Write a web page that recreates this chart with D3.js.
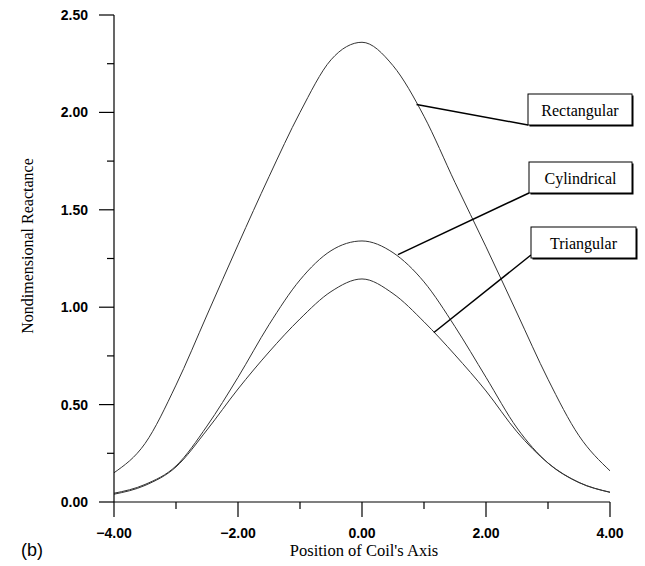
<!DOCTYPE html>
<html>
<head>
<meta charset="utf-8">
<script src="https://cdn.jsdelivr.net/npm/d3@7"></script>
<style>
body { margin: 0; background: #fff; }
</style>
</head>
<body>
<script>
var positions = [-4, -3.5, -3, -2.5, -2, -1.5, -1, -0.5, 0, 0.5, 1, 1.5, 2, 2.5, 3, 3.5, 4];
var rectangular = [0.15, 0.30, 0.60, 0.96, 1.32, 1.67, 2.00, 2.27, 2.36, 2.24, 1.98, 1.64, 1.31, 0.97, 0.63, 0.34, 0.16];
var cylindrical = [0.045, 0.09, 0.185, 0.39, 0.64, 0.91, 1.14, 1.29, 1.34, 1.28, 1.13, 0.90, 0.64, 0.38, 0.20, 0.10, 0.05];
var triangular = [0.04, 0.085, 0.18, 0.37, 0.58, 0.77, 0.94, 1.08, 1.145, 1.07, 0.925, 0.755, 0.57, 0.36, 0.20, 0.10, 0.05];
var seriesNames = ["Rectangular", "Cylindrical", "Triangular"];
var anchorX = [0.88, 0.58, 1.16];
var anchorY = [2.04, 1.27, 0.87];
var xTicks = [-4, -2, 0, 2, 4];
var xMinor = [-3, -1, 1, 3];
var yTicks = [0, 0.5, 1, 1.5, 2, 2.5];
var yMinor = [0.25, 0.75, 1.25, 1.75, 2.25];

var w = 645;
var h = 566;
var svg = d3.select("body")
			.append("svg")
			.attr("width", w)
			.attr("height", h);

var x = d3.scaleLinear().domain([-4, 4]).range([114, 610]);
var y = d3.scaleLinear().domain([0, 2.5]).range([502, 15]);

var series = [rectangular, cylindrical, triangular];
var line = d3.line()
	.x(function(d, i) { return x(positions[i]); })
	.y(function(d) { return y(d); })
	.curve(d3.curveMonotoneX);

svg.selectAll("path.curve")
	.data(series)
	.enter()
	.append("path")
	.attr("class", "curve")
	.attr("d", line)
	.attr("fill", "none")
	.attr("stroke", "#333")
	.attr("stroke-width", 1);

// y axis
var yAxis = svg.append("g").attr("transform", "translate(" + x(-4) + ",0)");
yAxis.append("line")
	.attr("x1", 0).attr("x2", 0)
	.attr("y1", y(2.5)).attr("y2", y(0))
	.attr("stroke", "#000").attr("stroke-width", 1.2);
yAxis.selectAll("line.major")
	.data(yTicks)
	.enter()
	.append("line")
	.attr("class", "major")
	.attr("x1", -15).attr("x2", 0)
	.attr("y1", function(d) { return y(d); })
	.attr("y2", function(d) { return y(d); })
	.attr("stroke", "#000").attr("stroke-width", 1.2);
yAxis.selectAll("line.minor")
	.data(yMinor)
	.enter()
	.append("line")
	.attr("class", "minor")
	.attr("x1", -7).attr("x2", 0)
	.attr("y1", function(d) { return y(d); })
	.attr("y2", function(d) { return y(d); })
	.attr("stroke", "#000").attr("stroke-width", 1.2);
yAxis.selectAll("text")
	.data(yTicks)
	.enter()
	.append("text")
	.text(function(d) { return d3.format(".2f")(d); })
	.attr("x", -26)
	.attr("y", function(d) { return y(d); })
	.attr("dy", "0.36em")
	.attr("text-anchor", "end")
	.attr("font-family", "Liberation Sans, Arial, sans-serif")
	.attr("font-weight", "bold")
	.attr("font-size", "14px");

// x axis
var xAxis = svg.append("g").attr("transform", "translate(0," + y(0) + ")");
xAxis.append("line")
	.attr("x1", x(-4)).attr("x2", x(4))
	.attr("y1", 0).attr("y2", 0)
	.attr("stroke", "#000").attr("stroke-width", 1.2);
xAxis.selectAll("line.major")
	.data(xTicks)
	.enter()
	.append("line")
	.attr("class", "major")
	.attr("x1", function(d) { return x(d); })
	.attr("x2", function(d) { return x(d); })
	.attr("y1", 0).attr("y2", 15)
	.attr("stroke", "#000").attr("stroke-width", 1.2);
xAxis.selectAll("line.minor")
	.data(xMinor)
	.enter()
	.append("line")
	.attr("class", "minor")
	.attr("x1", function(d) { return x(d); })
	.attr("x2", function(d) { return x(d); })
	.attr("y1", 0).attr("y2", 7)
	.attr("stroke", "#000").attr("stroke-width", 1.2);
xAxis.selectAll("text")
	.data(xTicks)
	.enter()
	.append("text")
	.text(function(d) { return d3.format(".2f")(d); })
	.attr("x", function(d) { return x(d); })
	.attr("y", 36)
	.attr("text-anchor", "middle")
	.attr("font-family", "Liberation Sans, Arial, sans-serif")
	.attr("font-weight", "bold")
	.attr("font-size", "14px");

svg.append("text")
	.text("Position of Coil's Axis")
	.attr("x", 364)
	.attr("y", 556)
	.attr("text-anchor", "middle")
	.attr("font-family", "Liberation Serif, Times New Roman, serif")
	.attr("font-size", "16.5px");

svg.append("text")
	.text("Nondimensional Reactance")
	.attr("transform", "translate(33,246) rotate(-90)")
	.attr("text-anchor", "middle")
	.attr("font-family", "Liberation Serif, Times New Roman, serif")
	.attr("font-size", "16px");

svg.append("text")
	.text("(b)")
	.attr("x", 21)
	.attr("y", 556)
	.attr("font-family", "Liberation Sans, Arial, sans-serif")
	.attr("font-size", "18px");

// labels with leader lines
var boxLeft = [528, 529, 531];
var boxTop = [94, 162, 227];
var boxW = [104, 103, 105];
var boxH = 31;
var leadEndY = [125, 193, 255];

var labels = svg.selectAll("g.label")
	.data(seriesNames)
	.enter()
	.append("g")
	.attr("class", "label");
labels.append("line")
	.attr("x1", function(d, i) { return x(anchorX[i]); })
	.attr("y1", function(d, i) { return y(anchorY[i]); })
	.attr("x2", function(d, i) { return boxLeft[i]; })
	.attr("y2", function(d, i) { return leadEndY[i]; })
	.attr("stroke", "#000")
	.attr("stroke-width", 1.5);
labels.append("rect")
	.attr("x", function(d, i) { return boxLeft[i] + 1.5; })
	.attr("y", function(d, i) { return boxTop[i] + 1.5; })
	.attr("width", function(d, i) { return boxW[i]; })
	.attr("height", boxH)
	.attr("fill", "#000");
labels.append("rect")
	.attr("x", function(d, i) { return boxLeft[i]; })
	.attr("y", function(d, i) { return boxTop[i]; })
	.attr("width", function(d, i) { return boxW[i]; })
	.attr("height", boxH)
	.attr("fill", "#fff")
	.attr("stroke", "#000")
	.attr("stroke-width", 1);
labels.append("text")
	.text(function(d) { return d; })
	.attr("x", function(d, i) { return boxLeft[i] + boxW[i] / 2; })
	.attr("y", function(d, i) { return boxTop[i] + 22; })
	.attr("text-anchor", "middle")
	.attr("font-family", "Liberation Serif, Times New Roman, serif")
	.attr("font-size", "16px");
</script>
</body>
</html>
